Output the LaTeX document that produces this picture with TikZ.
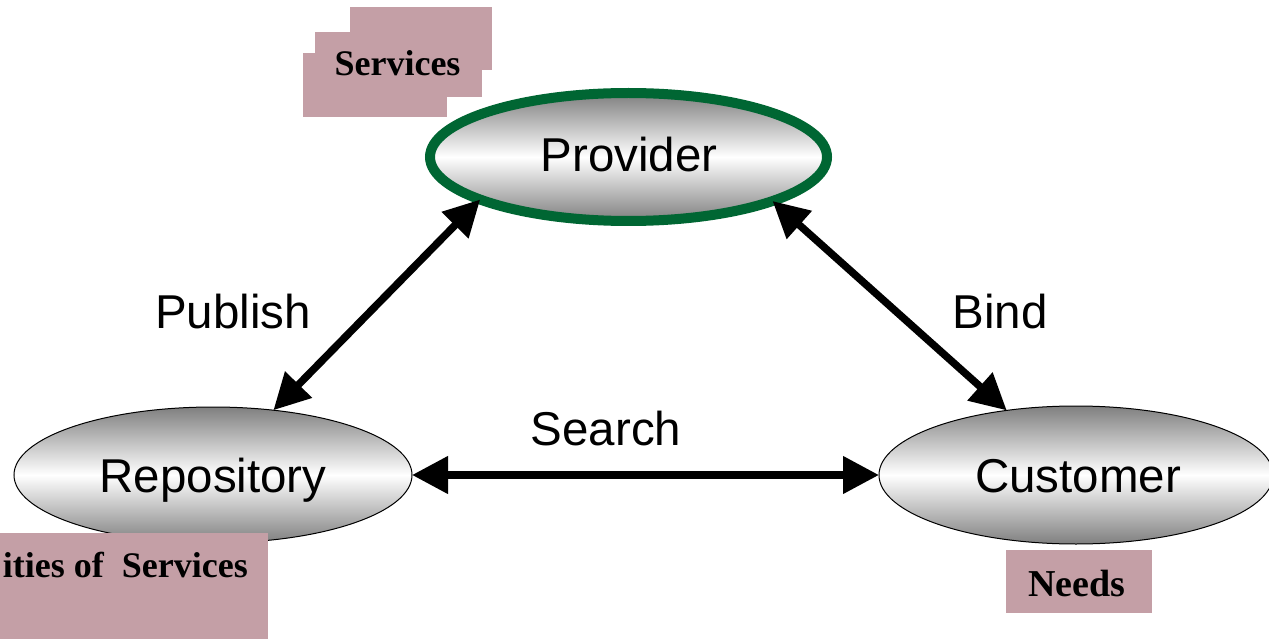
\documentclass[tikz,border=0pt]{standalone}
\usepackage{fontspec}
\setmainfont{Liberation Serif}
\newfontfamily\arialf{Liberation Sans}
\usetikzlibrary{shapes.geometric,arrows.meta}
\definecolor{pinkbox}{RGB}{196,159,166}
\definecolor{provgreen}{RGB}{0,102,51}
\tikzset{
  oval/.style={ellipse, inner sep=0pt, outer sep=0pt, draw=black, line width=1pt,
    top color=black!50, bottom color=black!50, middle color=white},
  lbl/.style={inner sep=0pt, anchor=base, font=\arialf\fontsize{47.5}{52}\selectfont},
  pinklbl/.style={inner sep=0pt, anchor=base, font=\bfseries\fontsize{36}{40}\selectfont},
  pinkfill/.style={fill=pinkbox, draw=none},
  dbl/.style={line width=7.5pt, {Triangle[length=36pt,width=36pt]}-{Triangle[length=36pt,width=36pt]}}
}
\begin{document}
\begin{tikzpicture}[x=1pt,y=-1pt]
\useasboundingbox[fill=white] (0,0) rectangle (1269,639);
% ellipses
\node[oval, draw=provgreen, line width=10pt, minimum width=397pt, minimum height=128pt] (prov) at (628.5,157) {};
\node[oval, minimum width=398pt, minimum height=136pt] (rep) at (213,475) {};
\node[oval, minimum width=394pt, minimum height=138pt] (cust) at (1076,475) {};
% ellipse labels
\node[lbl] (provt) at (629,172) {Provider};
\node[lbl] (rept) at (213,492) {Repository};
\node[lbl] (custt) at (1078,492) {Customer};
% connectors
\draw[dbl] (rep.47) -- (prov.196.6);
\draw[dbl] (prov.343.5) -- (cust.137);
\draw[dbl] (rep.east) -- (cust.west);
% connector labels
\node[lbl] (pub) at (233,328) {Publish};
\node[lbl] (bind) at (1000,328) {Bind};
\node[lbl] (search) at (606,445) {Search};
% pink boxes
\fill[pinkfill] (350,7) rectangle (492,70);
\fill[pinkfill] (315,32) rectangle (482,97);
\fill[pinkfill] (303,53) rectangle (447,117);
\node[pinklbl] (serv) at (397.5,76) {Services};
\fill[pinkfill] (0,533) rectangle (268,639);
\node[pinklbl, anchor=base east] (capab) at (248,577) {ities of\ \ Services};
\fill[pinkfill] (1006,550) rectangle (1152,613);
\node[pinklbl, font=\bfseries\fontsize{38}{40}\selectfont] (needs) at (1077,596) {Needs};
\end{tikzpicture}
\end{document}
